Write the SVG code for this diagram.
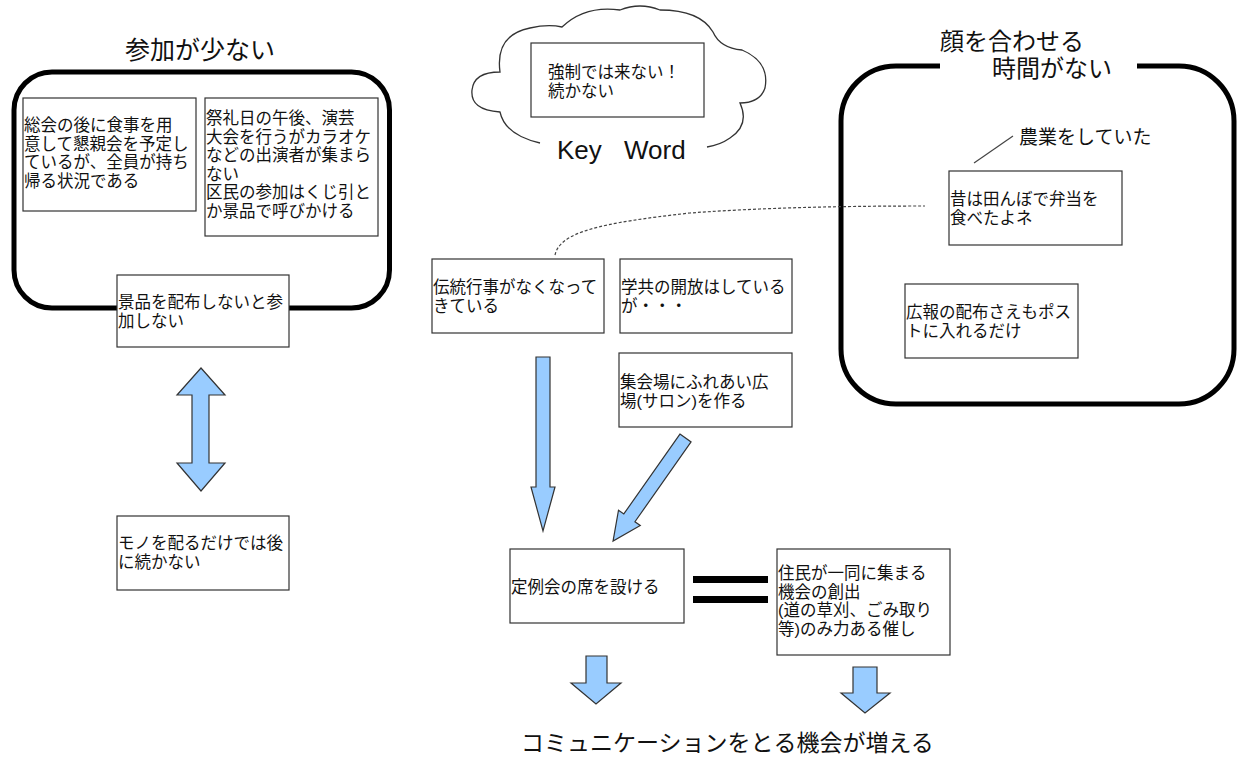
<svg xmlns="http://www.w3.org/2000/svg" width="1239" height="760" viewBox="0 0 1239 760">
<style>
text{font-family:"Liberation Sans","Noto Sans CJK JP",sans-serif;fill:#111}
.t{font-size:16.5px}
.title{font-size:25px}
.box{fill:#fff;stroke:#333;stroke-width:1.2}
.frame{fill:none;stroke:#000;stroke-width:5}
.arrow{fill:#99CCFF;stroke:#333;stroke-width:1.2;stroke-linejoin:miter}
.line{fill:none;stroke:#444;stroke-width:1.2}
</style>
<rect x="0" y="0" width="1239" height="760" fill="#fff"/>

<g id="group-left">
<text class="title" x="200" y="59" text-anchor="middle">参加が少ない</text>
<rect class="frame" x="14" y="72" width="375.5" height="236" rx="38" ry="38"/>
</g>

<g id="node-soukai">
<rect class="box" x="23" y="98" width="173" height="113"/>
<text class="t" x="24" y="131">総会の後に食事を用<tspan x="24" dy="18.6">意して懇親会を予定し</tspan><tspan x="24" dy="18.6">ているが、全員が持ち</tspan><tspan x="24" dy="18.6">帰る状況である</tspan></text>
</g>

<g id="node-sairei">
<rect class="box" x="205" y="98" width="173" height="138"/>
<text class="t" x="206" y="124">祭礼日の午後、演芸<tspan x="206" dy="18.6">大会を行うがカラオケ</tspan><tspan x="206" dy="18.6">などの出演者が集まら</tspan><tspan x="206" dy="18.6">ない</tspan><tspan x="206" dy="18.6">区民の参加はくじ引と</tspan><tspan x="206" dy="18.6">か景品で呼びかける</tspan></text>
</g>

<g id="node-keihin">
<rect class="box" x="117" y="275" width="172" height="72"/>
<text class="t" x="118" y="308">景品を配布しないと参<tspan x="118" dy="18.5">加しない</tspan></text>
</g>

<g id="node-mono">
<rect class="box" x="117" y="516" width="172" height="74"/>
<text class="t" x="118" y="549">モノを配るだけでは後<tspan x="118" dy="18.5">に続かない</tspan></text>
</g>

<g id="node-keyword">
<path d="M540,143 Q505,135 500,112 Q470,110 472,90 Q474,72 500,72 Q495,35 530,28 Q548,24 562,27 Q585,5 620,10 Q640,2 660,10 Q700,10 713,32 Q720,48 742,50 Q770,62 765,88 Q760,103 740,103 Q750,125 730,138 Q720,145 707,147" fill="none" stroke="#333" stroke-width="1.3"/>
<rect class="box" x="531" y="43" width="173" height="74"/>
<text class="t" x="548" y="78">強制では来ない！<tspan x="548" dy="18.5">続かない</tspan></text>
<text style="font-family:'Liberation Sans',Arial,sans-serif;font-size:26px"><tspan x="557" y="159">Key</tspan><tspan x="624" y="159">Word</tspan></text>
</g>

<g id="node-dentou">
<rect class="box" x="432" y="259" width="172" height="74"/>
<text class="t" x="433" y="293">伝統行事がなくなって<tspan x="433" dy="18.5">きている</tspan></text>
</g>

<g id="node-gakkyou">
<rect class="box" x="620" y="259" width="172" height="74"/>
<text class="t" x="621" y="293">学共の開放はしている<tspan x="621" dy="18.5">が・・・</tspan></text>
</g>

<g id="node-shuukai">
<rect class="box" x="619" y="353" width="173" height="74"/>
<text class="t" x="620" y="388">集会場にふれあい広<tspan x="620" dy="18.5">場(サロン)を作る</tspan></text>
</g>

<g id="node-teirei">
<rect class="box" x="510" y="549" width="174" height="74"/>
<text class="t" x="511" y="593">定例会の席を設ける</text>
</g>

<g id="node-juumin">
<rect class="box" x="777" y="549" width="173" height="106"/>
<text class="t" x="778" y="579">住民が一同に集まる<tspan x="778" dy="18.5">機会の創出</tspan><tspan x="778" dy="18.5">(道の草刈、ごみ取り</tspan><tspan x="778" dy="18.5">等)のみ力ある催し</tspan></text>
</g>

<g id="group-right">
<path class="frame" d="M1137,66 H1179 A55,55 0 0 1 1234,121 V349 A55,55 0 0 1 1179,404 H896 A55,55 0 0 1 841,349 V121 A55,55 0 0 1 896,66 H940"/>
<text class="title" style="font-size:24px" x="940" y="50">顔を合わせる</text>
<text class="title" style="font-size:24px" x="992" y="77">時間がない</text>
<text style="font-size:19px" x="1019" y="144">農業をしていた</text>
</g>

<g id="node-mukashi">
<rect class="box" x="949" y="171" width="173" height="74"/>
<text class="t" x="950" y="205">昔は田んぼで弁当を<tspan x="950" dy="18.5">食べたよネ</tspan></text>
</g>

<g id="node-kouhou">
<rect class="box" x="905" y="284" width="173" height="74"/>
<text class="t" x="906" y="318">広報の配布さえもポス<tspan x="906" dy="18.5">トに入れるだけ</tspan></text>
</g>

<g id="node-result">
<text style="font-size:23px" x="521" y="751">コミュニケーションをとる機会が増える</text>
</g>

<g id="connectors">
<line class="line" x1="974" y1="163" x2="1013" y2="136"/>
<path d="M555,255 C560,232 600,223 690,213 C770,207 860,206 925,206" fill="none" stroke="#444" stroke-width="1.2" stroke-dasharray="3 2"/>
<polygon class="arrow" points="201,368 225,395 209,395 209,463 225,463 201,491 177,463 192,463 192,395 177,395"/>
<polygon class="arrow" points="536,357 550,357 550,487 555,487 543,531 531,487 536,487"/>
<polygon class="arrow" transform="translate(685.5,438) rotate(35.1)" points="-6.8,0 6.8,0 6.8,97.6 13.3,97.6 0,126 -13.3,97.6 -6.8,97.6"/>
<polygon class="arrow" points="586,656 607,656 607,683 621,683 596,704 571,683 586,683"/>
<polygon class="arrow" points="853,667 877,667 877,693 890,693 865,713 841,693 853,693"/>
<rect x="693" y="576" width="75" height="7" fill="#000"/>
<rect x="693" y="596" width="75" height="7" fill="#000"/>
</g>
</svg>
